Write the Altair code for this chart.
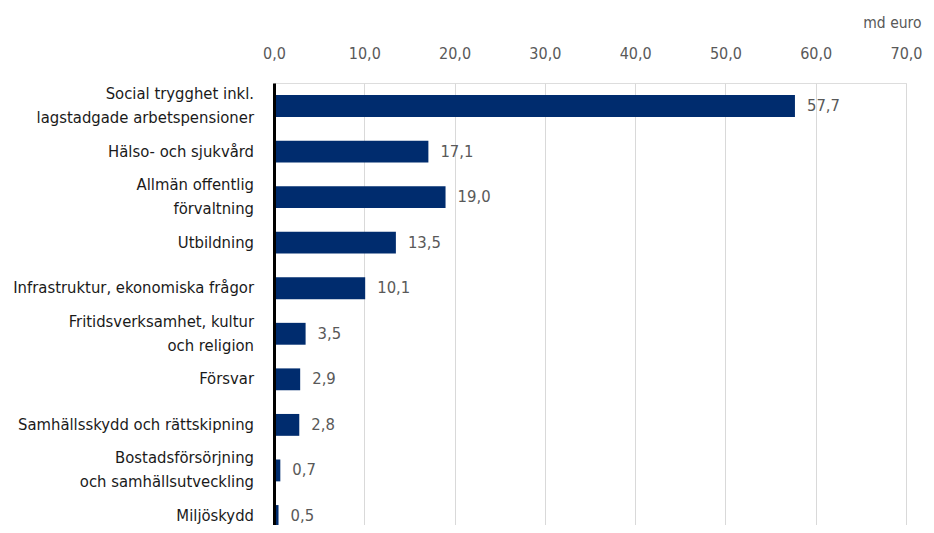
import altair as alt
import pandas as pd

categories = [
    "Social trygghet inkl.|lagstadgade arbetspensioner",
    "Hälso- och sjukvård",
    "Allmän offentlig|förvaltning",
    "Utbildning",
    "Infrastruktur, ekonomiska frågor",
    "Fritidsverksamhet, kultur|och religion",
    "Försvar",
    "Samhällsskydd och rättskipning",
    "Bostadsförsörjning|och samhällsutveckling",
    "Miljöskydd",
]
values = [57.7, 17.1, 19.0, 13.5, 10.1, 3.5, 2.9, 2.8, 0.7, 0.5]
x_ticks = [0, 10, 20, 30, 40, 50, 60, 70]

df = pd.DataFrame({"category": categories, "value": values})

FONT = "DejaVu Sans Condensed, Roboto, sans-serif"
BAR = "#002c6e"
GRAY = "#595959"

yscale = alt.Scale(range=[0, 456], paddingInner=0.52, paddingOuter=0.265)

y = alt.Y(
    "category:N",
    sort=categories,
    scale=yscale,
    axis=alt.Axis(
        title=None,
        labels=False,
        ticks=False,
        domainColor="#000000",
        domainWidth=3,
        zindex=1,
    ),
)

x = alt.X(
    "value:Q",
    scale=alt.Scale(domain=[0, 70], nice=False),
    axis=alt.Axis(
        orient="top",
        values=x_ticks,
        labelExpr="replace(format(datum.value, '.1f'), '.', ',')",
        labelFont=FONT,
        labelFontSize=16,
        labelColor=GRAY,
        labelPadding=22,
        labelFlush=False,
        ticks=False,
        domain=False,
        grid=True,
        gridColor="#d9d9d9",
        gridWidth=1,
        title="md euro",
        titleFont=FONT,
        titleFontSize=15.5,
        titleFontWeight="normal",
        titleColor=GRAY,
        titleAlign="right",
        titleX=647,
        titleY=-61,
        titleBaseline="middle",
    ),
)

bars = alt.Chart(df).mark_bar(color=BAR).encode(x=x, y=y)

text = alt.Chart(df).transform_calculate(
    lbl="replace(format(datum.value, '.1f'), '.', ',')"
).mark_text(
    align="left", baseline="middle", dx=12, font=FONT, fontSize=16.5, color=GRAY
).encode(
    x=alt.X("value:Q"),
    y=alt.Y("category:N", sort=categories),
    text="lbl:N",
)

label_style = dict(align="right", baseline="middle", font=FONT, fontSize=16.5,
                   color="#1a1a1a", lineHeight=24)

ylabels_single = alt.Chart(df).transform_filter(
    "indexof(datum.category, '|') < 0"
).mark_text(**label_style).encode(
    x=alt.value(-20),
    y=alt.Y("category:N", sort=categories),
    text="category:N",
)

ylabels_double = alt.Chart(df).transform_filter(
    "indexof(datum.category, '|') >= 0"
).transform_calculate(
    lines="split(datum.category, '|')"
).mark_text(dy=-12, **label_style).encode(
    x=alt.value(-20),
    y=alt.Y("category:N", sort=categories),
    text="lines:N",
)

chart = (
    alt.layer(bars, text, ylabels_single, ylabels_double)
    .properties(
        width=632,
        height=442,
        autosize=alt.AutoSizeParams(type="none"),
        padding={"left": 266, "top": 75, "right": 20, "bottom": 0},
    )
    .configure_view(stroke=None)
    .configure(background="white")
)

chart.save("out.html", embed_options={"renderer": "svg", "actions": False})
